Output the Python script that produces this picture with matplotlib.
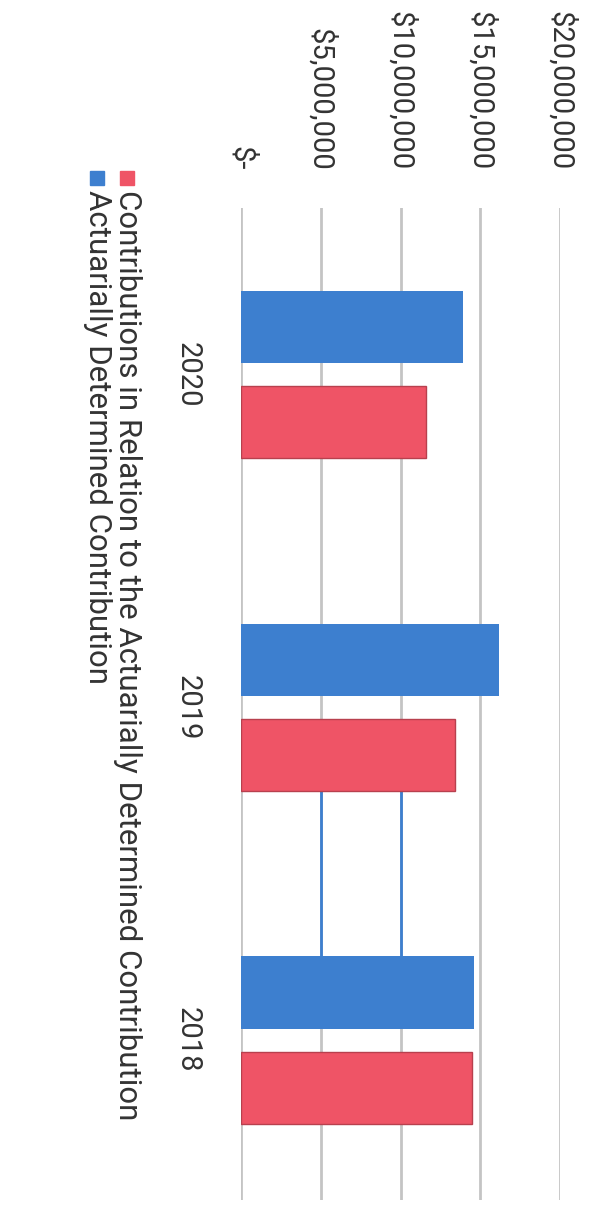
import numpy as np
import matplotlib.pyplot as plt
from matplotlib.patches import Rectangle

years = ["2020", "2019", "2018"]
adc = [13.9e6, 16.2e6, 14.6e6]
contrib = [11.6e6, 13.4e6, 14.5e6]
value_ticks = [0, 5e6, 10e6, 15e6, 20e6]
value_labels = ["$-", "$5,000,000", "$10,000,000", "$15,000,000", "$20,000,000"]
series_names = ["Actuarially Determined Contribution",
                "Contributions in Relation to the Actuarially Determined Contribution"]

blue = "#3d7fcf"
red = "#ef5466"
grid_gray = "#c4c4c4"
text_color = "#333333"
font = ["Roboto", "DejaVu Sans"]

W, H = 590, 1214
fig = plt.figure(figsize=(W / 100, H / 100), dpi=100)
# the whole chart is laid out turned a quarter turn clockwise
ax = fig.add_axes([241 / W, 1 - 1200 / H, (560 - 241) / W, (1200 - 208) / H])

pos = np.arange(len(years))
off = 0.143
h = 0.217
ax.barh(pos - off, adc, height=h, color=blue, zorder=3)
ax.barh(pos + off, contrib, height=h, color=red, edgecolor="#b8404e", linewidth=1, zorder=3)

# stray blue stretch of the gridlines between 2019 and 2018
ax.vlines([5e6, 10e6], pos[1] + off + h / 2, pos[2] - off - h / 2, color=blue, lw=2, zorder=2)

ax.set_xlim(0, 20e6)
ax.set_ylim(2.48, -0.5)
for v in value_ticks:
    ax.axvline(v, color=grid_gray, lw=2, zorder=1)

for s in ax.spines.values():
    s.set_visible(False)

ax.xaxis.tick_top()
ax.set_xticks(value_ticks)
ax.set_xticklabels(value_labels, rotation=-90, fontsize=21, family=font, color=text_color)
ax.tick_params(axis="x", length=0, pad=27)
ax.set_yticks(pos)
ax.set_yticklabels(years, rotation=-90, fontsize=21, family=font, color=text_color,
                   va="center", ha="right")
ax.tick_params(axis="y", length=0, pad=28)
for lab in ax.get_xticklabels():
    lab.set_verticalalignment("bottom")
    lab.set_horizontalalignment("center")

# legend, one swatch and label per series
for i, (name, col) in enumerate(zip(series_names, [blue, red])):
    cx = 97 + 30 * i
    fig.patches.append(Rectangle(((cx - 7) / W, 1 - 185 / H), 14 / W, 14 / H,
                                 transform=fig.transFigure, color=col))
    fig.text(cx / W, 1 - 190 / H, name, rotation=-90, ha="center", va="top",
             fontsize=22.5, family=font, color=text_color)

fig.savefig("out.png", dpi=100)
